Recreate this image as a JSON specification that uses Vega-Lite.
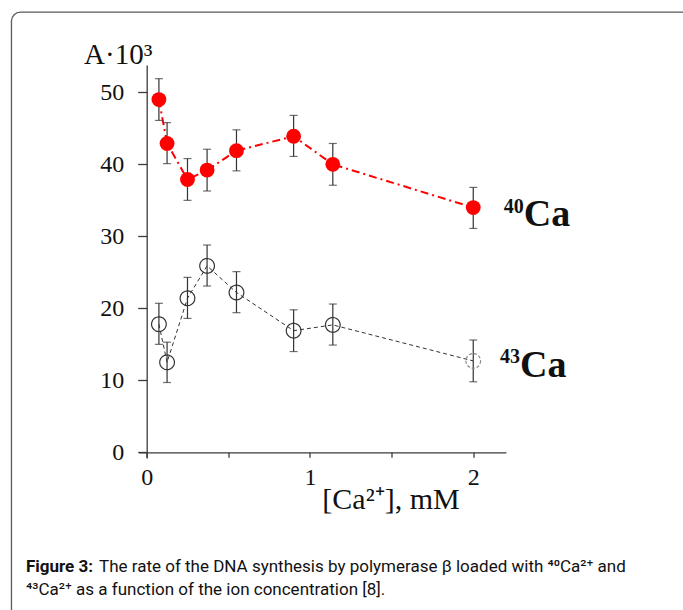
{
  "$schema": "https://vega.github.io/schema/vega-lite/v6.json",
  "autosize": {"type": "none"},
  "width": 367.4,
  "height": 393.1,
  "padding": {"left": 138.5, "top": 65, "right": 177.1, "bottom": 151.9},
  "background": "white",
  "config": {
    "view": {"stroke": null},
    "font": "Liberation Serif",
    "axis": {
      "grid": false,
      "domainColor": "#3a3a3a",
      "domainWidth": 1.3,
      "tickColor": "#3a3a3a",
      "tickWidth": 1.3,
      "labelFont": "Liberation Serif",
      "labelFontSize": 24,
      "labelColor": "#111",
      "labelFlush": false,
      "labelOverlap": false,
      "labelBound": false,
      "titleFont": "Liberation Serif",
      "titleFontWeight": "normal",
      "titleColor": "#111"
    }
  },
  "data": {
    "values": [
      {"isotope": "40Ca", "x": 0.075, "y": 49.0, "lo": 46.1, "hi": 51.9},
      {"isotope": "40Ca", "x": 0.125, "y": 42.9, "lo": 40.1, "hi": 45.8},
      {"isotope": "40Ca", "x": 0.25, "y": 37.9, "lo": 35.0, "hi": 40.8},
      {"isotope": "40Ca", "x": 0.37, "y": 39.2, "lo": 36.3, "hi": 42.1},
      {"isotope": "40Ca", "x": 0.55, "y": 41.9, "lo": 39.1, "hi": 44.8},
      {"isotope": "40Ca", "x": 0.9, "y": 43.9, "lo": 41.1, "hi": 46.8},
      {"isotope": "40Ca", "x": 1.14, "y": 40.0, "lo": 37.1, "hi": 42.9},
      {"isotope": "40Ca", "x": 2.0, "y": 34.0, "lo": 31.1, "hi": 36.8},
      {"isotope": "43Ca", "x": 0.075, "y": 17.8, "lo": 15.0, "hi": 20.7},
      {"isotope": "43Ca", "x": 0.125, "y": 12.5, "lo": 9.7, "hi": 15.3},
      {"isotope": "43Ca", "x": 0.25, "y": 21.4, "lo": 18.6, "hi": 24.3},
      {"isotope": "43Ca", "x": 0.37, "y": 25.9, "lo": 23.1, "hi": 28.8},
      {"isotope": "43Ca", "x": 0.55, "y": 22.2, "lo": 19.4, "hi": 25.1},
      {"isotope": "43Ca", "x": 0.9, "y": 16.9, "lo": 14.0, "hi": 19.8},
      {"isotope": "43Ca", "x": 1.14, "y": 17.7, "lo": 14.9, "hi": 20.6},
      {"isotope": "43Ca", "x": 2.0, "y": 12.7, "lo": 9.8, "hi": 15.6}
    ]
  },
  "layer": [
    {
      "description": "figure frame, open at the right and bottom edges",
      "data": {"values": [{}]},
      "mark": {"type": "rect", "fill": null, "stroke": "#5a5a5a", "strokeWidth": 1.3, "cornerRadius": 9},
      "encoding": {
        "x": {"datum": -0.828, "type": "quantitative", "scale": {"domain": [-0.05, 2.2], "nice": false, "zero": false}},
        "x2": {"datum": 3.6},
        "y": {"datum": 61.15, "type": "quantitative", "scale": {"domain": [-0.8, 53.8], "nice": false, "zero": false}},
        "y2": {"datum": -30}
      }
    },
    {
      "transform": [{"filter": "datum.isotope == '43Ca'"}],
      "mark": {"type": "line", "color": "#333", "strokeWidth": 1, "strokeDash": [4, 3]},
      "encoding": {
        "x": {"field": "x", "type": "quantitative", "scale": {"domain": [-0.05, 2.2], "nice": false, "zero": false}},
        "y": {"field": "y", "type": "quantitative", "scale": {"domain": [-0.8, 53.8], "nice": false, "zero": false}}
      }
    },
    {
      "transform": [{"filter": "datum.isotope == '40Ca'"}],
      "mark": {"type": "line", "color": "#ff0000", "strokeWidth": 2, "strokeDash": [8, 4, 2, 4]},
      "encoding": {
        "x": {"field": "x", "type": "quantitative", "scale": {"domain": [-0.05, 2.2], "nice": false, "zero": false}},
        "y": {"field": "y", "type": "quantitative", "scale": {"domain": [-0.8, 53.8], "nice": false, "zero": false}}
      }
    },
    {
      "mark": {"type": "rule", "color": "#333", "strokeWidth": 1.2},
      "encoding": {
        "x": {"field": "x", "type": "quantitative", "scale": {"domain": [-0.05, 2.2], "nice": false, "zero": false}},
        "y": {"field": "lo", "type": "quantitative", "scale": {"domain": [-0.8, 53.8], "nice": false, "zero": false}},
        "y2": {"field": "hi"}
      }
    },
    {
      "mark": {"type": "tick", "orient": "horizontal", "color": "#333", "size": 8, "thickness": 1.2},
      "encoding": {
        "x": {"field": "x", "type": "quantitative", "scale": {"domain": [-0.05, 2.2], "nice": false, "zero": false}},
        "y": {"field": "lo", "type": "quantitative", "scale": {"domain": [-0.8, 53.8], "nice": false, "zero": false}}
      }
    },
    {
      "mark": {"type": "tick", "orient": "horizontal", "color": "#333", "size": 8, "thickness": 1.2},
      "encoding": {
        "x": {"field": "x", "type": "quantitative", "scale": {"domain": [-0.05, 2.2], "nice": false, "zero": false}},
        "y": {"field": "hi", "type": "quantitative", "scale": {"domain": [-0.8, 53.8], "nice": false, "zero": false}}
      }
    },
    {
      "transform": [{"filter": "datum.isotope == '43Ca'"}],
      "mark": {"type": "point", "shape": "circle", "filled": false, "size": 215, "strokeWidth": 1.2, "opacity": 1},
      "encoding": {
        "x": {"field": "x", "type": "quantitative", "scale": {"domain": [-0.05, 2.2], "nice": false, "zero": false}},
        "y": {"field": "y", "type": "quantitative", "scale": {"domain": [-0.8, 53.8], "nice": false, "zero": false}},
        "stroke": {"condition": {"test": "datum.x >= 2", "value": "#8a8a8a"}, "value": "#333"},
        "strokeDash": {"condition": {"test": "datum.x >= 2", "value": [3, 2]}, "value": [1, 0]}
      }
    },
    {
      "transform": [{"filter": "datum.isotope == '40Ca'"}],
      "mark": {"type": "point", "shape": "circle", "filled": true, "size": 220, "color": "#ff0000", "opacity": 1, "strokeWidth": 0},
      "encoding": {
        "x": {
          "field": "x", "type": "quantitative",
          "scale": {"domain": [-0.05, 2.2], "nice": false, "zero": false},
          "axis": {
            "values": [0, 0.5, 1, 1.5, 2],
            "labelExpr": "datum.value % 1 == 0 ? '' + datum.value : ''",
            "offset": -5.8,
            "tickSize": 5,
            "labelPadding": 8,
            "title": "[Ca²⁺], mM",
            "titleFontSize": 30,
            "titleX": 252,
            "titleY": 56,
            "titleAlign": "center",
            "titleBaseline": "alphabetic"
          }
        },
        "y": {
          "field": "y", "type": "quantitative",
          "scale": {"domain": [-0.8, 53.8], "nice": false, "zero": false},
          "axis": {
            "values": [0, 5, 10, 15, 20, 25, 30, 35, 40, 45, 50],
            "labelExpr": "datum.value % 10 == 0 ? '' + datum.value : ''",
            "offset": -8.2,
            "tickSize": 9,
            "labelPadding": 14,
            "title": "A·10³",
            "titleFontSize": 29,
            "titleAngle": 0,
            "titleX": -29,
            "titleY": -1.7,
            "titleAlign": "center",
            "titleBaseline": "alphabetic"
          }
        }
      }
    },
    {
      "data": {"values": [{}]},
      "mark": {"type": "text", "text": "Ca", "font": "Liberation Serif", "fontWeight": "bold", "fontSize": 38, "align": "left", "baseline": "alphabetic", "color": "#111"},
      "encoding": {
        "x": {"datum": 2.31, "type": "quantitative", "scale": {"domain": [-0.05, 2.2], "nice": false, "zero": false}},
        "y": {"datum": 31.5, "type": "quantitative", "scale": {"domain": [-0.8, 53.8], "nice": false, "zero": false}}
      }
    },
    {
      "data": {"values": [{}]},
      "mark": {"type": "text", "text": "40", "font": "Liberation Serif", "fontWeight": "bold", "fontSize": 20, "align": "right", "baseline": "alphabetic", "dy": -12.5, "color": "#111"},
      "encoding": {
        "x": {"datum": 2.31, "type": "quantitative", "scale": {"domain": [-0.05, 2.2], "nice": false, "zero": false}},
        "y": {"datum": 31.5, "type": "quantitative", "scale": {"domain": [-0.8, 53.8], "nice": false, "zero": false}}
      }
    },
    {
      "data": {"values": [{}]},
      "mark": {"type": "text", "text": "Ca", "font": "Liberation Serif", "fontWeight": "bold", "fontSize": 38, "align": "left", "baseline": "alphabetic", "color": "#111"},
      "encoding": {
        "x": {"datum": 2.287, "type": "quantitative", "scale": {"domain": [-0.05, 2.2], "nice": false, "zero": false}},
        "y": {"datum": 10.5, "type": "quantitative", "scale": {"domain": [-0.8, 53.8], "nice": false, "zero": false}}
      }
    },
    {
      "data": {"values": [{}]},
      "mark": {"type": "text", "text": "43", "font": "Liberation Serif", "fontWeight": "bold", "fontSize": 20, "align": "right", "baseline": "alphabetic", "dy": -13.5, "color": "#111"},
      "encoding": {
        "x": {"datum": 2.287, "type": "quantitative", "scale": {"domain": [-0.05, 2.2], "nice": false, "zero": false}},
        "y": {"datum": 10.5, "type": "quantitative", "scale": {"domain": [-0.8, 53.8], "nice": false, "zero": false}}
      }
    },
    {
      "data": {"values": [{}]},
      "mark": {"type": "text", "text": "Figure 3:", "font": "Roboto", "fontWeight": "bold", "fontSize": 17, "align": "left", "baseline": "alphabetic", "color": "#111"},
      "encoding": {
        "x": {"datum": -0.739, "type": "quantitative", "scale": {"domain": [-0.05, 2.2], "nice": false, "zero": false}},
        "y": {"datum": -16.6, "type": "quantitative", "scale": {"domain": [-0.8, 53.8], "nice": false, "zero": false}}
      }
    },
    {
      "data": {"values": [{}]},
      "mark": {"type": "text", "text": "The rate of the DNA synthesis by polymerase β loaded with ⁴⁰Ca²⁺ and", "font": "Roboto", "fontSize": 17, "align": "left", "baseline": "alphabetic", "dx": 73, "color": "#111"},
      "encoding": {
        "x": {"datum": -0.739, "type": "quantitative", "scale": {"domain": [-0.05, 2.2], "nice": false, "zero": false}},
        "y": {"datum": -16.6, "type": "quantitative", "scale": {"domain": [-0.8, 53.8], "nice": false, "zero": false}}
      }
    },
    {
      "data": {"values": [{}]},
      "mark": {"type": "text", "text": "⁴³Ca²⁺ as a function of the ion concentration [8].", "font": "Roboto", "fontSize": 17, "align": "left", "baseline": "alphabetic", "color": "#111"},
      "encoding": {
        "x": {"datum": -0.739, "type": "quantitative", "scale": {"domain": [-0.05, 2.2], "nice": false, "zero": false}},
        "y": {"datum": -19.8, "type": "quantitative", "scale": {"domain": [-0.8, 53.8], "nice": false, "zero": false}}
      }
    }
  ]
}
